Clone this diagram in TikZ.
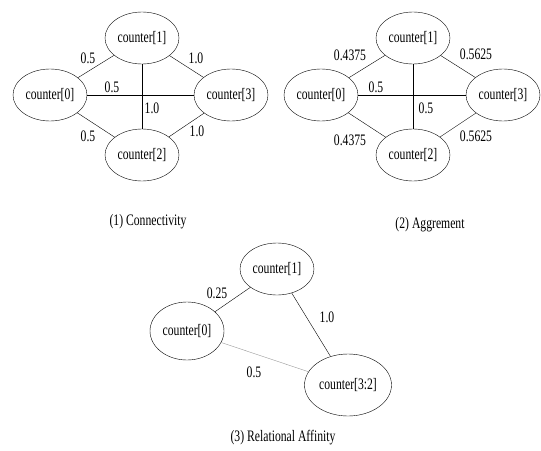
\documentclass[tikz,border=0pt]{standalone}
\usepackage{fontspec}
\setmainfont{Liberation Serif}[FakeStretch=0.73]
\usetikzlibrary{positioning,shapes.geometric}

\begin{document}
\begin{tikzpicture}[
        x=1pt, y=-1pt,
        font=\fontsize{16}{18}\selectfont,
        % --- STYLE CHUNG ---
        cnode/.style={
            ellipse,
            draw=black,
            thin,
            fill=white,
            minimum width=74pt,
            minimum height=52pt,
            inner sep=0pt
        },
        % Nut rong hon
        wnode/.style={
            cnode,
            minimum width=87pt,
            minimum height=62pt
        },
        % Duong noi
        link/.style={draw=black, thin},
        softlink/.style={draw=black!40, thin},
        % Nhan trong so
        wlabel/.style={inner sep=1pt}
    ]

        \useasboundingbox (0,0) rectangle (541,450);

        % --- HINH (1) ---
        \node[cnode] (a1) at (142,38) {counter[1]};
        \node[cnode] (a0) at (50,95) {counter[0]};
        \node[cnode] (a3) at (231,95) {counter[3]};
        \node[cnode] (a2) at (142,155) {counter[2]};

        \draw[link] (a0) -- (a1);
        \draw[link] (a1) -- (a3);
        \draw[link] (a0) -- (a3);
        \draw[link] (a1) -- (a2);
        \draw[link] (a0) -- (a2);
        \draw[link] (a3) -- (a2);

        \node[wlabel] (a01) at (88,58) {0.5};
        \node[wlabel] (a13) at (196,58) {1.0};
        \node[wlabel] (a03) at (112,87) {0.5};
        \node[wlabel] (a12) at (152,108) {1.0};
        \node[wlabel] (a02) at (88,136) {0.5};
        \node[wlabel] (a32) at (197,131) {1.0};

        \node (capA) at (148,222) {(1) Connectivity};

        % --- HINH (2) ---
        \node[cnode] (b1) at (413,38) {counter[1]};
        \node[cnode] (b0) at (321,95) {counter[0]};
        \node[cnode] (b3) at (503,95) {counter[3]};
        \node[cnode] (b2) at (413,155) {counter[2]};

        \draw[link] (b0) -- (b1);
        \draw[link] (b1) -- (b3);
        \draw[link] (b0) -- (b3);
        \draw[link] (b1) -- (b2);
        \draw[link] (b0) -- (b2);
        \draw[link] (b3) -- (b2);

        \node[wlabel] (b01) at (350,55) {0.4375};
        \node[wlabel] (b13) at (476,54) {0.5625};
        \node[wlabel] (b03) at (376,87) {0.5};
        \node[wlabel] (b12) at (426,108) {0.5};
        \node[wlabel] (b02) at (350,140) {0.4375};
        \node[wlabel] (b32) at (476,136) {0.5625};

        \node (capB) at (430,225) {(2) Aggrement};

        % --- HINH (3) ---
        \node[cnode] (c1) at (277,269) {counter[1]};
        \node[cnode, minimum height=58pt] (c0) at (187,331) {counter[0]};
        \node[wnode] (c32) at (348,385) {counter[3:2]};

        \draw[link] (c0) -- (c1);
        \draw[link] (c1) -- (c32);
        \draw[softlink] (c0) -- (c32);

        \node[wlabel] (c01) at (217,293) {0.25};
        \node[wlabel] (c132) at (327,317) {1.0};
        \node[wlabel] (c032) at (254,372) {0.5};

        \node (capC) at (283,438) {(3) Relational Affinity};

    \end{tikzpicture}
\end{document}
